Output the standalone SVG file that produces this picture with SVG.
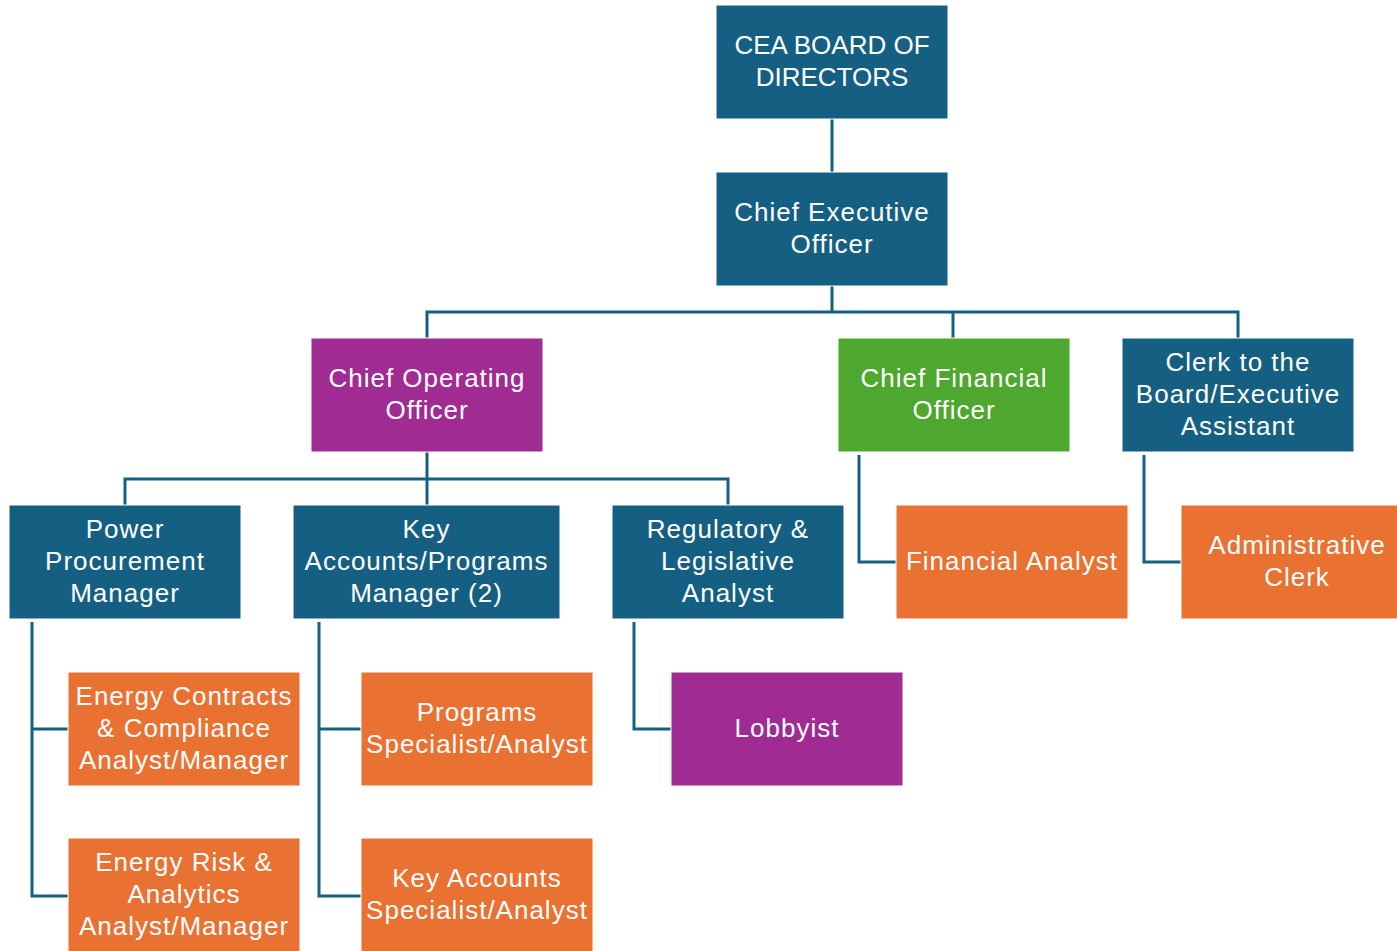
<svg xmlns="http://www.w3.org/2000/svg" width="1397" height="951" viewBox="0 0 1397 951">
<style>
.b{fill:#156082}.o{fill:#E97132}.p{fill:#A02B93}.g{fill:#4EA72E}
rect{stroke:#ffffff;stroke-width:1}
text{font-family:"Liberation Sans",Arial,sans-serif;font-size:26px;fill:#ffffff;text-anchor:middle;letter-spacing:1px}
text.caps{letter-spacing:0}
.c{fill:none;stroke:#156082;stroke-width:3}
</style>
<rect width="1397" height="951" fill="#ffffff" stroke="none"/>
<g id="connectors">
<path class="c" d="M832 119V172"/>
<path class="c" d="M832 286V312"/>
<path class="c" d="M427 338V312H1238V338"/>
<path class="c" d="M953 312V338"/>
<path class="c" d="M427 452V505"/>
<path class="c" d="M125 505V479H728V505"/>
<path class="c" d="M32 622V896H68"/>
<path class="c" d="M32 729H68"/>
<path class="c" d="M319 622V896H361"/>
<path class="c" d="M319 729H361"/>
<path class="c" d="M634 622V729H671"/>
<path class="c" d="M859 455V562H896"/>
<path class="c" d="M1144 455V562H1181"/>
</g>
<g id="board"><rect class="b" x="716" y="5" width="232" height="114"/><text class="caps" x="832" y="54">CEA BOARD OF</text><text class="caps" x="832" y="86">DIRECTORS</text></g>
<g id="ceo"><rect class="b" x="716" y="172" width="232" height="114"/><text x="832" y="221">Chief Executive</text><text x="832" y="253">Officer</text></g>
<g id="coo"><rect class="p" x="311" y="338" width="232" height="114"/><text x="427" y="387">Chief Operating</text><text x="427" y="419">Officer</text></g>
<g id="cfo"><rect class="g" x="838" y="338" width="232" height="114"/><text x="954" y="387">Chief Financial</text><text x="954" y="419">Officer</text></g>
<g id="clerk"><rect class="b" x="1122" y="338" width="232" height="114"/><text x="1238" y="371">Clerk to the</text><text x="1238" y="403">Board/Executive</text><text x="1238" y="435">Assistant</text></g>
<g id="ppm"><rect class="b" x="9" y="505" width="232" height="114"/><text x="125" y="538">Power</text><text x="125" y="570">Procurement</text><text x="125" y="602">Manager</text></g>
<g id="kam"><rect class="b" x="293" y="505" width="267" height="114"/><text x="426.5" y="538">Key</text><text x="426.5" y="570">Accounts/Programs</text><text x="426.5" y="602">Manager (2)</text></g>
<g id="reg"><rect class="b" x="612" y="505" width="232" height="114"/><text x="728" y="538">Regulatory &amp;</text><text x="728" y="570">Legislative</text><text x="728" y="602">Analyst</text></g>
<g id="fa"><rect class="o" x="896" y="505" width="232" height="114"/><text x="1012" y="570">Financial Analyst</text></g>
<g id="admin"><rect class="o" x="1181" y="505" width="232" height="114"/><text x="1297" y="554">Administrative</text><text x="1297" y="586">Clerk</text></g>
<g id="ecc"><rect class="o" x="68" y="672" width="232" height="114"/><text x="184" y="705">Energy Contracts</text><text x="184" y="737">&amp; Compliance</text><text x="184" y="769">Analyst/Manager</text></g>
<g id="era"><rect class="o" x="68" y="838" width="232" height="114"/><text x="184" y="871">Energy Risk &amp;</text><text x="184" y="903">Analytics</text><text x="184" y="935">Analyst/Manager</text></g>
<g id="psa"><rect class="o" x="361" y="672" width="232" height="114"/><text x="477" y="721">Programs</text><text x="477" y="753">Specialist/Analyst</text></g>
<g id="ksa"><rect class="o" x="361" y="838" width="232" height="114"/><text x="477" y="887">Key Accounts</text><text x="477" y="919">Specialist/Analyst</text></g>
<g id="lob"><rect class="p" x="671" y="672" width="232" height="114"/><text x="787" y="737">Lobbyist</text></g>
</svg>
